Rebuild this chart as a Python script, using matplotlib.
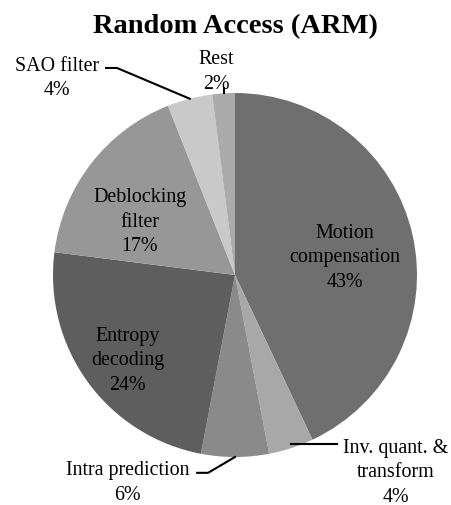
import numpy as np
import matplotlib.pyplot as plt

plt.rcParams['font.family'] = ['Liberation Serif', 'DejaVu Serif']

labels = ['Motion\ncompensation', 'Inv. quant. &\ntransform', 'Intra prediction',
          'Entropy\ndecoding', 'Deblocking\nfilter', 'SAO filter', 'Rest']
values = [43, 4, 6, 24, 17, 4, 2]
colors = ['#6f6f6f', '#a8a8a8', '#8a8a8a', '#5e5e5e', '#979797', '#c9c9c9', '#ababab']

fig = plt.figure(figsize=(4.51, 5.06), dpi=100)
ax = fig.add_axes((53/451, 48/506, 364/451, 364/506))
wedges, _ = ax.pie(values, colors=colors, startangle=90, counterclock=False,
                   radius=1, wedgeprops=dict(linewidth=0))
ax.set_xlim(-1, 1)
ax.set_ylim(-1, 1)
ax.set_aspect('equal')
ax.set_axis_off()

fig.text(235/451, 1 - 33/506, 'Random Access (ARM)', fontsize=20.5, fontweight='bold',
         ha='center', va='baseline')

fs = 14.4
ls = 1.4

def edge(i, r=1.0):
    w = wedges[i]
    a = np.deg2rad((w.theta1 + w.theta2) / 2)
    return r * np.cos(a), r * np.sin(a)

def txt(i):
    return '%s\n%d%%' % (labels[i], values[i])

kw = dict(fontsize=fs, ha='center', va='center', linespacing=ls, clip_on=False)
lkw = dict(color='black', lw=1.5, clip_on=False)

# inside labels
ax.text(0.604, 0.10, txt(0), **kw)
ax.text(-0.59, -0.465, txt(3), **kw)
ax.text(-0.522, 0.295, txt(4), **kw)

# Inv. quant.
ex, ey = edge(1)
ax.text(0.885, -1.082, txt(1), **kw)
ax.plot([ex, ex + 0.25], [ey + 0.022, ey + 0.022], **lkw)

# Intra prediction
ex, ey = edge(2)
ax.text(-0.59, -1.137, txt(2), **kw)
ax.plot([ex, ex - 0.148, ex - 0.208], [ey, ey - 0.087, ey - 0.087], **lkw)

# SAO filter
ex, ey = edge(5)
ax.text(-0.98, 1.085, txt(5), **kw)
ax.plot([ex, ex - 0.40, ex - 0.46], [ey, ey + 0.169, ey + 0.169], **lkw)

# Rest
ex, ey = edge(6)
ax.text(-0.104, 1.12, txt(6), **kw)
ax.plot([ex, ex], [ey, ey + 0.03], **lkw)

fig.savefig('out.png', dpi=100)
